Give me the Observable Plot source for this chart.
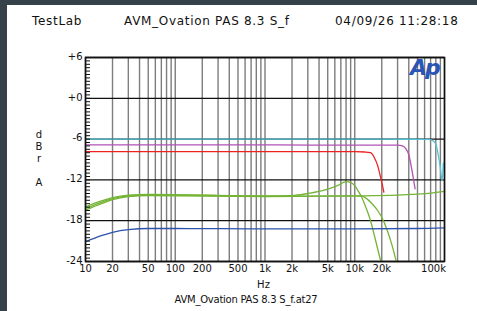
<!DOCTYPE html>
<html>
<head>
<meta charset="utf-8">
<script src="https://cdn.jsdelivr.net/npm/d3@7"></script>
<script src="https://cdn.jsdelivr.net/npm/@observablehq/plot@0.6"></script>
<style>
  html, body { margin: 0; padding: 0; background: #36424a; }
  #page { position: relative; width: 477px; height: 311px; overflow: hidden; }
  #paper { position: absolute; left: 7px; top: 5px; right: 0; bottom: 0; background: #ffffff; }
  #chart { position: absolute; left: 0; top: 0; }
  .t { position: absolute; font-family: "DejaVu Sans", sans-serif; color: #111; white-space: nowrap; }
  .title { font-size: 12px; top: 14px; letter-spacing: 0.7px; }
  #ylab { left: 34px; top: 129px; font-size: 10px; line-height: 12px; text-align: center; width: 10px; }
  #logo { left: 410px; top: 55px; font-family: "DejaVu Sans", sans-serif; font-weight: bold; font-style: italic; font-size: 22px; color: #2a55b5; letter-spacing: -2px; }
</style>
</head>
<body>
<div id="page">
  <div id="paper"></div>
  <div id="chart"></div>
  <div class="t title" style="left:32px">TestLab</div>
  <div class="t title" style="left:124px">AVM_Ovation PAS 8.3 S_f</div>
  <div class="t title" style="left:335px">04/09/26 11:28:18</div>
  <div class="t" id="ylab">d<br>B<br>r<br><br>A</div>
  <div class="t" id="logo">Ap</div>
  <div class="t" style="left:0; width:527px; text-align:center; top:279px; font-size:10px;">Hz</div>
  <div class="t" style="left:0; width:492px; text-align:center; top:294px; font-size:10px; letter-spacing:-0.25px;">AVM_Ovation PAS 8.3 S_f.at27</div>
</div>
<script>
// ---- data (frequency Hz, level dBr A) ----
const cyanF  = [10, 100, 1000, 10000, 40000, 65000, 72000, 79000, 86000, 90000, 94000, 97000];
const cyanV  = [-6.0, -6.0, -6.0, -6.0, -6.02, -6.05, -6.15, -6.6, -8.6, -10.3, -12.1, -9.5];

const magF   = [10, 1000, 10000, 30000, 34000, 37000, 40000, 43000, 47000];
const magV   = [-6.85, -6.85, -6.9, -6.9, -7.0, -7.4, -8.3, -10.3, -13.3];

const redF   = [10, 1000, 10000, 13000, 15000, 16500, 18000, 19400, 21100];
const redV   = [-7.85, -7.85, -7.85, -7.9, -8.0, -8.7, -9.9, -11.6, -13.8];

const g1F    = [10, 15, 20, 30, 50, 100, 300, 1000, 3000, 10000, 30000, 50000, 70000, 100000];
const g1V    = [-16.2, -15.3, -14.75, -14.35, -14.25, -14.25, -14.3, -14.4, -14.4, -14.35, -14.25, -14.1, -13.95, -13.7];

const g2F    = [10, 15, 20, 30, 50, 1000, 2000, 3000, 4000, 5000, 6500, 8000, 9000, 10000, 11000, 12000, 13000, 15000, 17000, 19500];
const g2V    = [-15.95, -15.1, -14.6, -14.25, -14.15, -14.35, -14.3, -14.0, -13.7, -13.35, -12.8, -12.25, -12.35, -12.85, -13.7, -14.6, -15.7, -18.0, -20.8, -24.0];

const g3F    = [10, 15, 20, 30, 50, 1000, 5000, 10000, 12000, 14000, 15600, 18000, 20000, 23000, 26000, 29000];
const g3V    = [-16.45, -15.5, -14.9, -14.45, -14.3, -14.45, -14.4, -14.35, -14.4, -14.9, -15.5, -16.5, -17.5, -19.4, -21.6, -24.0];

const blueF  = [10, 15, 20, 30, 50, 100, 1000, 10000, 50000, 100000];
const blueV  = [-21.1, -20.2, -19.7, -19.3, -19.15, -19.15, -19.2, -19.2, -19.15, -19.05];

const xTickVals   = [10, 20, 50, 100, 200, 500, 1000, 2000, 5000, 10000, 20000];
const xTickLabels = ["10", "20", "50", "100", "200", "500", "1k", "2k", "5k", "10k", "20k"];
const xLastTick   = [100000];
const xLastLabel  = ["100k"];
const yTickVals   = [6, 0, -6, -12, -18, -24];
const yTickLabels = ["+6", "+0", "-6", "-12", "-18", "-24"];

// ---- build ----
const series = [
  {F: cyanF, V: cyanV, color: "#55c3d3"},
  {F: magF,  V: magV,  color: "#b052b4"},
  {F: redF,  V: redV,  color: "#ee2222"},
  {F: g3F,   V: g3V,   color: "#74b434"},
  {F: g1F,   V: g1V,   color: "#74b434"},
  {F: g2F,   V: g2V,   color: "#74b434"},
  {F: blueF, V: blueV, color: "#2d52ad"}
];
const gridF = [];
for (const dec of [10, 100, 1000, 10000]) for (let k = 1; k <= 10; k++) { if (k > 1 || dec === 10) gridF.push(dec * k); }
const minorY = d3.range(-24, 6.001, 0.5);

const lineMarks = series.map(s =>
  Plot.line(s.F.map((f, i) => ({f, v: s.V[i]})), {x: "f", y: "v", stroke: s.color, strokeWidth: 1.3, curve: "monotone-x"})
);

const chart = Plot.plot({
  width: 477, height: 311,
  marginLeft: 85, marginRight: 33, marginTop: 57, marginBottom: 50,
  style: {background: "transparent", fontFamily: "DejaVu Sans, sans-serif", fontSize: "10px", color: "#111"},
  x: {type: "log", domain: [10, 100000], axis: null},
  y: {domain: [-24, 6], axis: null},
  marks: [
    Plot.ruleX(gridF, {stroke: "#7d7d7d", strokeWidth: 1.4}),
    Plot.ruleY(yTickVals, {stroke: "#111", strokeWidth: 1.3}),
    ...lineMarks,
    Plot.axisY(minorY, {anchor: "left", tickSize: -5, fill: "none", stroke: "#111", strokeWidth: 1, label: null}),
    Plot.text(yTickVals, {y: d => d, text: (d, i) => yTickLabels[i], frameAnchor: "left", textAnchor: "end", dx: -3, dy: -1, fontSize: 10, fill: "#111"}),
    Plot.text(xTickVals, {x: d => d, text: (d, i) => xTickLabels[i], frameAnchor: "bottom", dy: 10, fontSize: 10, fill: "#111"}),
    Plot.text(xLastTick, {x: d => d, text: (d, i) => xLastLabel[i], frameAnchor: "bottom", dy: 10, dx: -11, fontSize: 10, fill: "#111"}),
    Plot.frame({stroke: "#111", strokeWidth: 1.6})
  ]
});
document.getElementById("chart").appendChild(chart);
</script>
</body>
</html>
